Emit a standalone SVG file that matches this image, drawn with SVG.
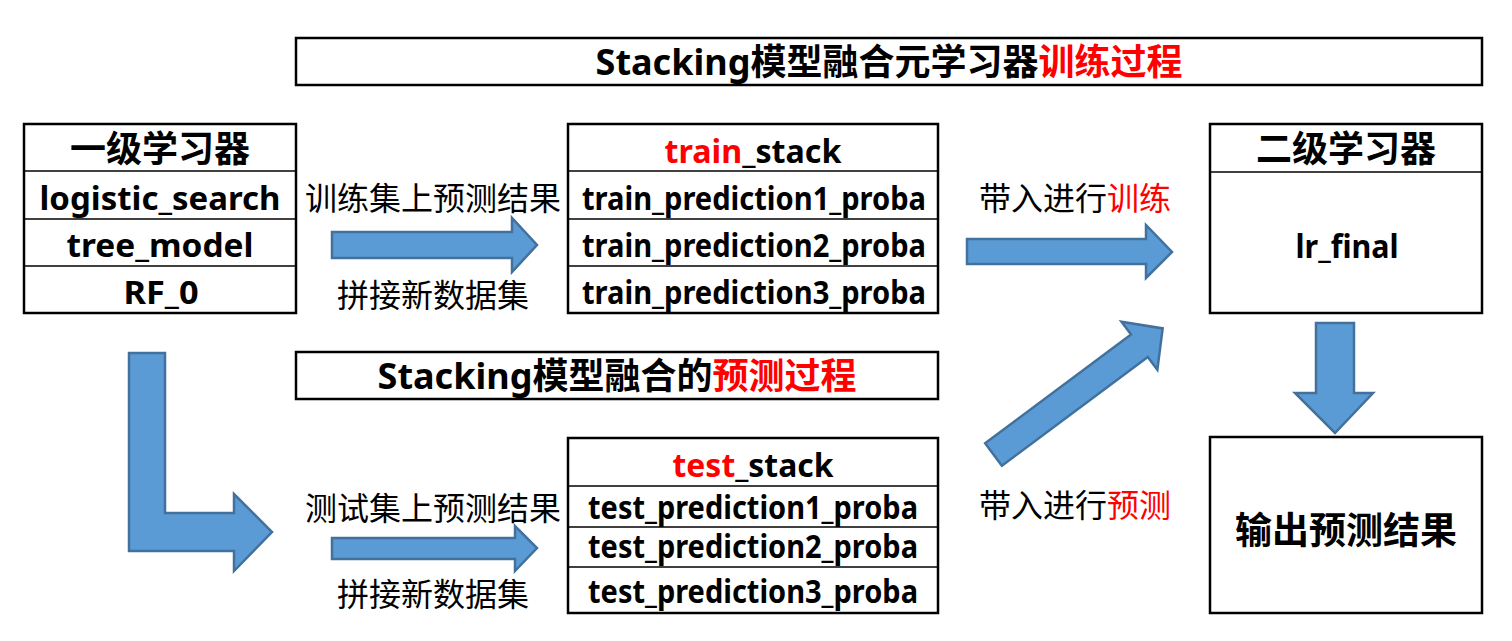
<svg xmlns="http://www.w3.org/2000/svg" width="1512" height="641" viewBox="0 0 1512 641">
<style>
.box{fill:#fff;stroke:#000;stroke-width:2.5}
.ln{stroke:#000;stroke-width:1.5}
.arr{fill:#5B9BD5;stroke:#41719C;stroke-width:2.5;stroke-linejoin:miter}
text{font-family:"Noto Sans","Noto Sans CJK SC",sans-serif;text-anchor:middle;fill:#000}
.cjkb{font-family:"Noto Sans CJK SC",sans-serif;font-weight:bold;font-size:36px}
.lat{font-weight:bold;font-size:32px}
.lbl{font-family:"Noto Sans CJK SC",sans-serif;font-size:32px}
.ttl{font-family:"Noto Sans","Noto Sans CJK SC",sans-serif;font-weight:bold;font-size:36px}
.red{fill:#FF0000}
</style>
<rect width="1512" height="641" fill="#fff"/>
<g id="title-train">
<rect class="box" x="296" y="38" width="1186" height="47"/>
<text class="ttl" x="889" y="75">Stacking模型融合元学习器<tspan class="red">训练过程</tspan></text>
</g>
<g id="title-predict">
<rect class="box" x="296" y="352" width="642" height="47"/>
<text class="ttl" x="617" y="389">Stacking模型融合的<tspan class="red">预测过程</tspan></text>
</g>
<g id="level1">
<rect class="box" x="24" y="124" width="272" height="189"/>
<line class="ln" x1="24" y1="171" x2="296" y2="171"/>
<line class="ln" x1="24" y1="219" x2="296" y2="219"/>
<line class="ln" x1="24" y1="266" x2="296" y2="266"/>
<text class="cjkb" x="160" y="162">一级学习器</text>
<text class="lat" x="160" y="210" textLength="241" lengthAdjust="spacingAndGlyphs">logistic_search</text>
<text class="lat" x="160" y="257" textLength="187" lengthAdjust="spacingAndGlyphs">tree_model</text>
<text class="lat" x="161" y="304" textLength="75" lengthAdjust="spacingAndGlyphs">RF_0</text>
</g>
<g id="train-stack">
<rect class="box" x="568" y="124" width="370" height="189"/>
<line class="ln" x1="568" y1="171" x2="938" y2="171"/>
<line class="ln" x1="568" y1="219" x2="938" y2="219"/>
<line class="ln" x1="568" y1="266" x2="938" y2="266"/>
<text class="lat" x="753" y="163" textLength="177" lengthAdjust="spacingAndGlyphs"><tspan class="red">train</tspan>_stack</text>
<text class="lat" x="754" y="210" textLength="344" lengthAdjust="spacingAndGlyphs">train_prediction1_proba</text>
<text class="lat" x="754" y="257" textLength="344" lengthAdjust="spacingAndGlyphs">train_prediction2_proba</text>
<text class="lat" x="754" y="304" textLength="344" lengthAdjust="spacingAndGlyphs">train_prediction3_proba</text>
</g>
<g id="level2">
<rect class="box" x="1210" y="124" width="272" height="189"/>
<line class="ln" x1="1210" y1="172" x2="1482" y2="172"/>
<text class="cjkb" x="1346" y="162">二级学习器</text>
<text class="lat" x="1347" y="258" textLength="103" lengthAdjust="spacingAndGlyphs">lr_final</text>
</g>
<g id="test-stack">
<rect class="box" x="568" y="438" width="370" height="175"/>
<line class="ln" x1="568" y1="486" x2="938" y2="486"/>
<line class="ln" x1="568" y1="527" x2="938" y2="527"/>
<line class="ln" x1="568" y1="567" x2="938" y2="567"/>
<text class="lat" x="753" y="477" textLength="161" lengthAdjust="spacingAndGlyphs"><tspan class="red">test</tspan>_stack</text>
<text class="lat" x="753" y="519" textLength="330" lengthAdjust="spacingAndGlyphs">test_prediction1_proba</text>
<text class="lat" x="753" y="558" textLength="330" lengthAdjust="spacingAndGlyphs">test_prediction2_proba</text>
<text class="lat" x="753" y="603" textLength="330" lengthAdjust="spacingAndGlyphs">test_prediction3_proba</text>
</g>
<g id="output">
<rect class="box" x="1210" y="437" width="272" height="176"/>
<text class="cjkb" x="1346" y="544" style="font-size:37px">输出预测结果</text>
</g>
<g id="connectors">
<polygon class="arr" points="129,353 165,353 165,513 234,513 234,494 272,532 234,571 234,551 129,551"/>
<polygon class="arr" points="332,232 512,232 512,218 537,245 512,272 512,258 332,258"/>
<polygon class="arr" points="967,239 1146,239 1146,225 1172,252 1146,278 1146,264 967,264"/>
<polygon class="arr" points="332,538 515,538 515,526 537,548 515,571 515,559 332,559"/>
<polygon class="arr" points="1316,323 1354,323 1354,393 1373,393 1335,433 1295,393 1316,393"/>
<polygon class="arr" transform="translate(993.5,454.5) rotate(-36.7)" points="0,-14 182,-14 182,-30 211,0 182,30 182,14 0,14"/>
<text class="lbl" x="433" y="210">训练集上预测结果</text>
<text class="lbl" x="433" y="307">拼接新数据集</text>
<text class="lbl" x="433" y="520">测试集上预测结果</text>
<text class="lbl" x="433" y="606">拼接新数据集</text>
<text class="lbl" x="1075" y="210">带入进行<tspan class="red">训练</tspan></text>
<text class="lbl" x="1075" y="517">带入进行<tspan class="red">预测</tspan></text>
</g>
</svg>
